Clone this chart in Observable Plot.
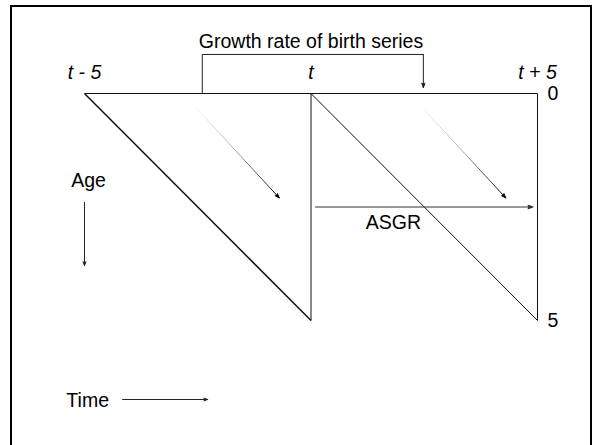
<!DOCTYPE html>
<html>
<head>
<meta charset="utf-8">
<script src="https://cdn.jsdelivr.net/npm/d3@7"></script>
<script src="https://cdn.jsdelivr.net/npm/@observablehq/plot@0.6"></script>
<style>
  html, body { margin: 0; padding: 0; background: #fff; }
  #wrap { position: relative; width: 600px; height: 445px; overflow: hidden; }
  #border { position: absolute; left: 10px; top: 5px; width: 582px; height: 460px; border: 2.5px solid #000; box-sizing: border-box; pointer-events: none; }
</style>
</head>
<body>
<div id="wrap"><div id="border"></div></div>
<script>
// Time axis (years relative to t) and age axis (years)
const timeLabels = [
  { time: -5, label: "t - 5" },
  { time: 0, label: "t" },
  { time: 5, label: "t + 5" }
];
const ageLabels = [
  { age: 0, label: "0" },
  { age: 5, label: "5" }
];
// Lexis diagram segments: [time1, age1, time2, age2]
const diagramLines = [
  { t1: -5, a1: 0, t2: 5, a2: 0, w: 1 },    // age 0 line
  { t1: -5, a1: 0, t2: 0, a2: 5, w: 1.5 },  // cohort line of t-5
  { t1: 0, a1: 0, t2: 0, a2: 5, w: 1 },     // time t
  { t1: 0, a1: 0, t2: 5, a2: 5, w: 1 },     // cohort line of t
  { t1: 5, a1: 0, t2: 5, a2: 5, w: 1 }      // time t+5
];
// Cohort ageing arrows (faded)
const cohortArrows = [
  { t1: -2.6, a1: 0.25, t2: -0.7, a2: 2.3 },
  { t1: 2.4, a1: 0.25, t2: 4.3, a2: 2.3 }
];
// Bracket for growth rate of birth series
const bracket = [
  { time: -2.4, age: 0 },
  { time: -2.4, age: -0.86 },
  { time: 2.48, age: -0.86 }
];
const bracketArrow = [{ t1: 2.48, a1: -0.86, t2: 2.48, a2: -0.13 }];
// ASGR arrow
const asgrArrow = [{ t1: 0.1, a1: 2.5, t2: 4.9, a2: 2.5 }];
// Direction arrows
const ageArrow = [{ t1: -5, a1: 2.4, t2: -5, a2: 3.79 }];
const timeArrow = [{ t1: -4.16, a1: 6.74, t2: -2.28, a2: 6.74 }];
const annotations = [
  { time: 0, age: -1.15, label: "Growth rate of birth series" },
  { time: 1.82, age: 2.84, label: "ASGR" },
  { time: -4.91, age: 1.92, label: "Age" },
  { time: -4.93, age: 6.76, label: "Time" }
];

const defs = () => {
  const ns = "http://www.w3.org/2000/svg";
  const d = document.createElementNS(ns, "defs");
  d.innerHTML = `<linearGradient id="fade" x1="0" y1="0" x2="1" y2="1">
     <stop offset="0" stop-color="#fff"/>
     <stop offset="0.5" stop-color="#aaa"/>
     <stop offset="1" stop-color="#000"/></linearGradient>`;
  return d;
};

const arrowOpts = { x1: "t1", y1: "a1", x2: "t2", y2: "a2", bend: 0, headLength: 7, headAngle: 40 };

const chart = Plot.plot({
  width: 600,
  height: 445,
  marginTop: 93,
  marginBottom: 125,
  marginLeft: 84,
  marginRight: 63,
  x: { domain: [-5, 5], range: [84, 537], axis: null },
  y: { domain: [0, 5], range: [93, 320], axis: null },
  style: { fontFamily: "'Liberation Sans', Arial, sans-serif", fontSize: "19.5px", background: "transparent", color: "#000" },
  marks: [
    defs,
    Plot.link(diagramLines, { x1: "t1", y1: "a1", x2: "t2", y2: "a2", stroke: "#111", strokeWidth: d => d.w }),
    Plot.line(bracket, { x: "time", y: "age", stroke: "#222", strokeWidth: 1, curve: "linear" }),
    Plot.arrow(bracketArrow, { ...arrowOpts, stroke: "#222", fill: "#222", strokeWidth: 1 }),
    Plot.arrow(cohortArrows, { ...arrowOpts, stroke: "url(#fade)", fill: "url(#fade)", strokeWidth: 1 }),
    Plot.arrow(asgrArrow, { ...arrowOpts, stroke: "#333", fill: "#333", strokeWidth: 1.1 }),
    Plot.arrow(ageArrow, { ...arrowOpts, headLength: 6, stroke: "#222", fill: "#222", strokeWidth: 1 }),
    Plot.arrow(timeArrow, { ...arrowOpts, headLength: 6, stroke: "#222", fill: "#222", strokeWidth: 1 }),
    Plot.text(timeLabels, { x: "time", y: -0.46, text: "label", fontStyle: "italic", fontSize: 19.5, fill: "#000", lineAnchor: "middle" }),
    Plot.text(ageLabels, { x: 5, y: "age", text: "label", textAnchor: "start", dx: 10, fontSize: 19.5, fill: "#000", lineAnchor: "middle" }),
    Plot.text(annotations, { x: "time", y: "age", text: "label", fontSize: 19.5, fill: "#000", lineAnchor: "middle" })
  ]
});
document.getElementById("wrap").prepend(chart);
chart.style.position = "absolute";
chart.style.left = "0";
chart.style.top = "0";
</script>
</body>
</html>
